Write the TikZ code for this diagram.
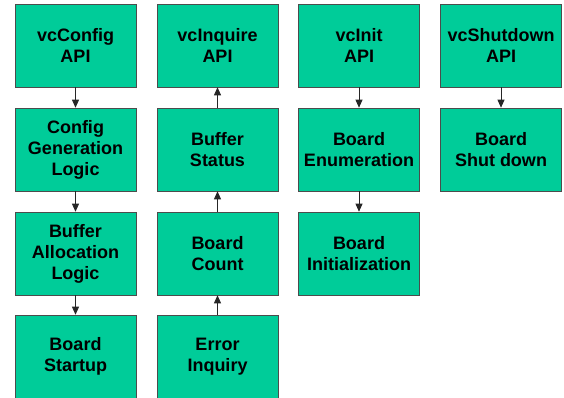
\documentclass[tikz,border=0pt]{standalone}
\usepackage{fontspec}
\setmainfont{Liberation Sans}
\usetikzlibrary{arrows.meta}
\definecolor{boxgreen}{HTML}{00CC99}
\tikzset{
  blk/.style={draw=black!70, line width=0.6pt, fill=boxgreen, minimum width=121pt, minimum height=83pt,
    inner sep=0pt, align=center, font=\fontsize{18}{21}\selectfont\bfseries, text=black},
  conn/.style={draw=black!85, line width=0.8pt, -{Triangle[length=8pt,width=7pt]}}
}
\begin{document}
\begin{tikzpicture}[x=1pt,y=1pt]
\useasboundingbox (0,0) rectangle (564,-398);
% column 1
\node[blk] (cfg) at (75.5,-45.5) {vcConfig\\API};
\node[blk] (gen) at (75.5,-149.5) {Config\\Generation\\Logic};
\node[blk] (alloc) at (75.5,-253.5) {Buffer\\Allocation\\Logic};
\node[blk] (start) at (75.5,-356.5) {Board\\Startup};
% column 2
\node[blk] (inq) at (217.5,-45.5) {vcInquire\\API};
\node[blk] (bstat) at (217.5,-149.5) {Buffer\\Status};
\node[blk] (bcount) at (217.5,-253.5) {Board\\Count};
\node[blk] (err) at (217.5,-356.5) {Error\\Inquiry};
% column 3
\node[blk] (init) at (359,-45.5) {vcInit\\API};
\node[blk] (enum) at (359,-149.5) {Board\\Enumeration};
\node[blk] (binit) at (359,-253.5) {Board\\Initialization};
% column 4
\node[blk] (shut) at (501,-45.5) {vcShutdown\\API};
\node[blk] (bshut) at (501,-149.5) {Board\\Shut down};
% connectors
\draw[conn] (cfg) -- (gen);
\draw[conn] (gen) -- (alloc);
\draw[conn] (alloc) -- (start);
\draw[conn] (err) -- (bcount);
\draw[conn] (bcount) -- (bstat);
\draw[conn] (bstat) -- (inq);
\draw[conn] (init) -- (enum);
\draw[conn] (enum) -- (binit);
\draw[conn] (shut) -- (bshut);
\end{tikzpicture}
\end{document}
